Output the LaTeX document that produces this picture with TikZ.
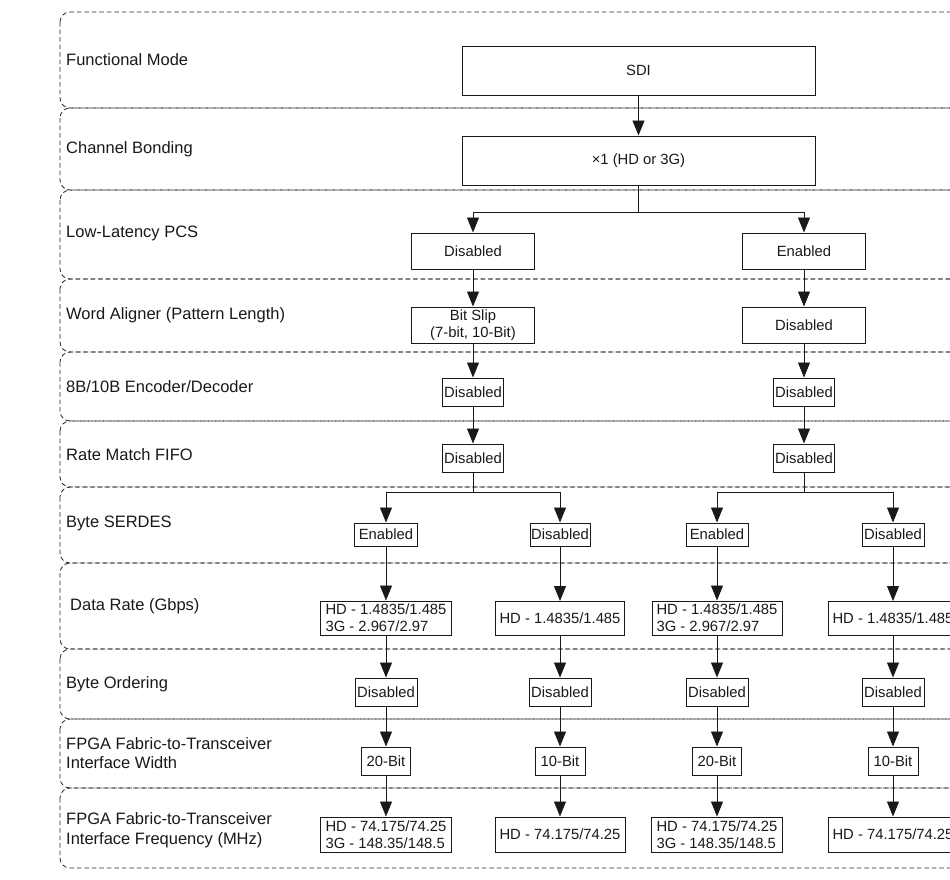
\documentclass[tikz,border=0pt]{standalone}
\usepackage{fontspec}
\setmainfont{Liberation Sans}
\usetikzlibrary{arrows.meta}
\begin{document}
\begin{tikzpicture}[x=1pt,y=-1pt,
  lane/.style={draw=black!85, line width=0.8pt, dash pattern=on 4.5pt off 3pt, rounded corners=10pt},
  box/.style={draw=black!90, line width=1pt, inner sep=0pt, align=center, text=black!90,
    font=\fontsize{14.8}{17}\selectfont},
  lbl/.style={anchor=west, inner sep=0pt, align=left, text=black!90,
    font=\fontsize{16.5}{19.5}\selectfont},
  ln/.style={draw=black!90, line width=0.9pt},
  arr/.style={draw=black!90, line width=0.9pt, -{Triangle[width=12pt,length=15pt]}}]
\useasboundingbox (0,0) rectangle (950,879);
\clip (0,0) rectangle (950,879);
% lanes
\foreach \a/\b in {12/108,108/190,190/279,279/352,352/421,421/487,487/563,563/649,649/719,719/788,788/868}
  \draw[lane] (60,\a) rectangle (1010,\b);
% lane labels
\node[lbl] (l1) at (66,60) {Functional Mode};
\node[lbl] (l2) at (66,149) {Channel Bonding};
\node[lbl] (l3) at (66,233) {Low-Latency PCS};
\node[lbl] (l4) at (66,315) {Word Aligner (Pattern Length)};
\node[lbl] (l5) at (66,387) {8B/10B Encoder/Decoder};
\node[lbl] (l6) at (66,455) {Rate Match FIFO};
\node[lbl] (l7) at (66,523) {Byte SERDES};
\node[lbl] (l8) at (70,606) {Data Rate (Gbps)};
\node[lbl] (l9) at (66,684) {Byte Ordering};
\node[lbl] (l10) at (66,753) {FPGA Fabric-to-Transceiver\\Interface Width};
\node[lbl] (l11) at (66,830) {FPGA Fabric-to-Transceiver\\Interface Frequency (MHz)};
% top boxes
\node[box, minimum width=353pt, minimum height=49pt] (sdi) at (638.5,70.5) {SDI};
\node[box, minimum width=353pt, minimum height=49pt] (cb) at (638.5,160.5) {×1 (HD or 3G)};
% PCS
\node[box, minimum width=123pt, minimum height=36pt] (pcs1) at (473,251) {Disabled};
\node[box, minimum width=123pt, minimum height=36pt] (pcs2) at (804,251) {Enabled};
% word aligner
\node[box, minimum width=123pt, minimum height=36pt] (wa1) at (473,325) {Bit Slip\\(7-bit, 10-Bit)};
\node[box, minimum width=123pt, minimum height=36pt] (wa2) at (804,325) {Disabled};
% encoder
\node[box, minimum width=61pt, minimum height=28pt] (en1) at (473,392) {Disabled};
\node[box, minimum width=61pt, minimum height=28pt] (en2) at (804,392) {Disabled};
% rate match
\node[box, minimum width=61pt, minimum height=28pt] (rm1) at (473,458) {Disabled};
\node[box, minimum width=61pt, minimum height=28pt] (rm2) at (804,458) {Disabled};
% byte serdes
\node[box, minimum width=63pt, minimum height=23pt] (sd1) at (386,534.5) {Enabled};
\node[box, minimum width=60pt, minimum height=23pt] (sd2) at (560,534.5) {Disabled};
\node[box, minimum width=62pt, minimum height=23pt] (sd3) at (717,534.5) {Enabled};
\node[box, minimum width=62pt, minimum height=23pt] (sd4) at (893,534.5) {Disabled};
% data rate
\node[box, align=left, minimum width=131pt, minimum height=34pt] (dr1) at (386,618) {HD - 1.4835/1.485\\3G - 2.967/2.97};
\node[box, minimum width=129pt, minimum height=34pt] (dr2) at (560,618.5) {HD - 1.4835/1.485};
\node[box, align=left, minimum width=130pt, minimum height=34pt] (dr3) at (717,618) {HD - 1.4835/1.485\\3G - 2.967/2.97};
\node[box, minimum width=130pt, minimum height=34pt] (dr4) at (893,618.5) {HD - 1.4835/1.485};
% byte ordering
\node[box, minimum width=62pt, minimum height=28pt] (bo1) at (386,692) {Disabled};
\node[box, minimum width=62pt, minimum height=28pt] (bo2) at (560,692) {Disabled};
\node[box, minimum width=62pt, minimum height=28pt] (bo3) at (717,692) {Disabled};
\node[box, minimum width=62pt, minimum height=28pt] (bo4) at (893,692) {Disabled};
% width
\node[box, minimum width=49pt, minimum height=28pt] (iw1) at (386,761) {20-Bit};
\node[box, minimum width=50pt, minimum height=28pt] (iw2) at (560,761) {10-Bit};
\node[box, minimum width=49pt, minimum height=28pt] (iw3) at (717,761) {20-Bit};
\node[box, minimum width=50pt, minimum height=28pt] (iw4) at (893,761) {10-Bit};
% frequency
\node[box, align=left, minimum width=131pt, minimum height=35pt] (fq1) at (386,834.5) {HD - 74.175/74.25\\3G - 148.35/148.5};
\node[box, minimum width=130pt, minimum height=35pt] (fq2) at (560,834.5) {HD - 74.175/74.25};
\node[box, align=left, minimum width=131pt, minimum height=35pt] (fq3) at (717,834.5) {HD - 74.175/74.25\\3G - 148.35/148.5};
\node[box, minimum width=130pt, minimum height=35pt] (fq4) at (893,834.5) {HD - 74.175/74.25};
% connectors
\draw[arr] (sdi) -- (cb);
\coordinate (j1) at (638.5,212);
\draw[ln] (cb) -- (j1);
\draw[arr] (j1) -| (pcs1);
\draw[arr] (j1) -| (pcs2);
\draw[arr] (pcs1) -- (wa1);
\draw[arr] (pcs2) -- (wa2);
\draw[arr] (wa1) -- (en1);
\draw[arr] (wa2) -- (en2);
\draw[arr] (en1) -- (rm1);
\draw[arr] (en2) -- (rm2);
\coordinate (j2) at (473,492);
\coordinate (j3) at (804,492);
\draw[ln] (rm1) -- (j2);
\draw[ln] (rm2) -- (j3);
\draw[arr] (j2) -| (sd1);
\draw[arr] (j2) -| (sd2);
\draw[arr] (j3) -| (sd3);
\draw[arr] (j3) -| (sd4);
\foreach \i in {1,2,3,4}{
  \draw[arr] (sd\i) -- (dr\i);
  \draw[arr] (dr\i) -- (bo\i);
  \draw[arr] (bo\i) -- (iw\i);
  \draw[arr] (iw\i) -- (fq\i);
}
\end{tikzpicture}
\end{document}
